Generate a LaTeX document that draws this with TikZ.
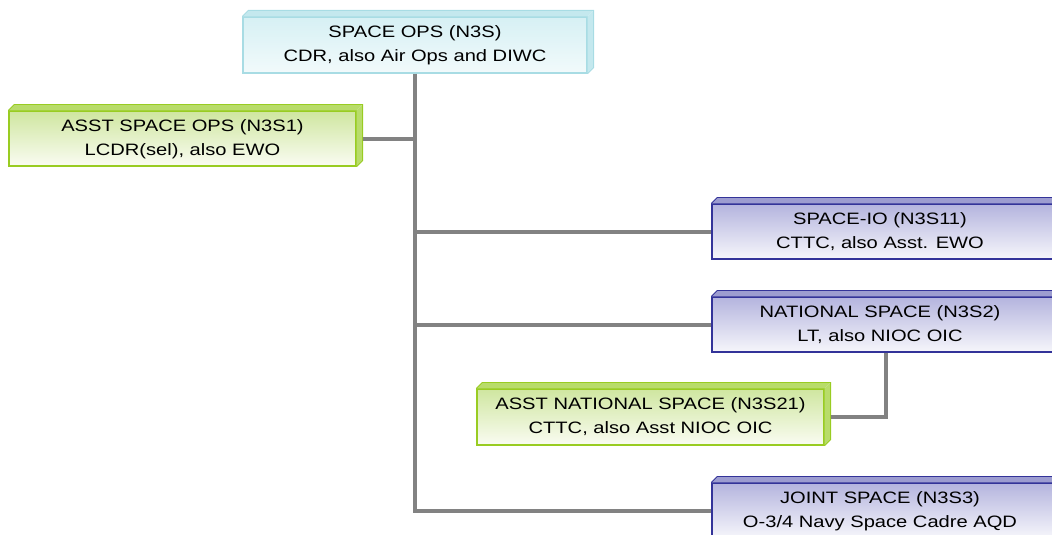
\documentclass[tikz,border=0pt]{standalone}
\usepackage{fontspec}
\setmainfont{Liberation Sans}
\usepackage{graphicx}
\definecolor{cyanborder}{HTML}{A8DCE4}
\definecolor{cyantop}{HTML}{D6F0F4}
\definecolor{cyanbot}{HTML}{F2FAFB}
\definecolor{cyanbev}{HTML}{C4E8EE}
\definecolor{greenborder}{HTML}{99CC22}
\definecolor{greentop}{HTML}{CFE6A0}
\definecolor{greenbot}{HTML}{FAFCF2}
\definecolor{greenbev}{HTML}{B8DC6A}
\definecolor{blueborder}{HTML}{333399}
\definecolor{bluetop}{HTML}{B4B4DE}
\definecolor{bluebot}{HTML}{F6F6FB}
\definecolor{bluebev}{HTML}{9C9CD0}
\definecolor{connc}{HTML}{828282}
\newcommand{\boxtext}[2]{\scalebox{1.22}[1]{\begin{tabular}{@{}c@{}}#1\\#2\end{tabular}}}
\tikzset{
  face/.style={draw, line width=1.2pt, inner sep=0pt, font=\fontsize{16.5}{24}\selectfont, text=black},
  cyanbox/.style={face, draw=cyanborder, top color=cyantop, bottom color=cyanbot},
  greenbox/.style={face, draw=greenborder, top color=greentop, bottom color=greenbot},
  bluebox/.style={face, draw=blueborder, top color=bluetop, bottom color=bluebot},
  conn/.style={draw=connc, line width=4pt},
}
\newcommand{\bevel}[3]{%
  \fill[#2] (#1.north west) -- ++(6,-6) -- ($(#1.north east)+(6,-6)$) -- (#1.north east) -- cycle;
  \fill[#2] (#1.north east) -- ++(6,-6) -- ($(#1.south east)+(6,-6)$) -- (#1.south east) -- cycle;
  \draw[#3, line width=0.8pt] (#1.north west) -- ++(6,-6) -- ($(#1.north east)+(6,-6)$) -- ($(#1.south east)+(6,-6)$) -- (#1.south east);
}
\usetikzlibrary{calc}
\begin{document}
\begin{tikzpicture}[x=1pt,y=-1pt]
\useasboundingbox (0,0) rectangle (1052,535);
\clip (0,0) rectangle (1052,535);
% nodes
\node[cyanbox, minimum width=344, minimum height=56] (top) at (415,45) {\boxtext{SPACE OPS (N3S)}{CDR, also Air Ops and DIWC}};
\node[greenbox, minimum width=347, minimum height=55] (asst) at (182.5,138.5) {\boxtext{ASST SPACE OPS (N3S1)}{LCDR(sel), also EWO}};
\node[bluebox, minimum width=348, minimum height=55] (spaceio) at (886,231.5) {\hspace*{-12pt}\boxtext{SPACE-IO (N3S11)}{CTTC, also Asst. EWO}};
\node[bluebox, minimum width=348, minimum height=55] (national) at (886,324.5) {\hspace*{-12pt}\boxtext{NATIONAL SPACE (N3S2)}{LT, also NIOC OIC}};
\node[greenbox, minimum width=347, minimum height=56] (asstnat) at (650.5,417) {\boxtext{ASST NATIONAL SPACE (N3S21)}{CTTC, also Asst NIOC OIC}};
\node[bluebox, minimum width=348, minimum height=55] (joint) at (886,510.5) {\hspace*{-12pt}\boxtext{JOINT SPACE (N3S3)}{O-3/4 Navy Space Cadre AQD}};
% bevels
\bevel{top}{cyanbev}{cyanborder}
\bevel{asst}{greenbev}{greenborder}
\bevel{spaceio}{bluebev}{blueborder}
\bevel{national}{bluebev}{blueborder}
\bevel{asstnat}{greenbev}{greenborder}
\bevel{joint}{bluebev}{blueborder}
% connectors
\draw[conn] (top.south) -- (top.south |- joint.west) -- (joint.west);
\draw[conn] ($(asst.east)+(6,0)$) -- (asst.east -| top.south);
\draw[conn] (top.south |- spaceio.west) -- (spaceio.west);
\draw[conn] (top.south |- national.west) -- (national.west);
\draw[conn] ($(asstnat.east)+(6,0)$) -| (national.south);
\end{tikzpicture}
\end{document}
